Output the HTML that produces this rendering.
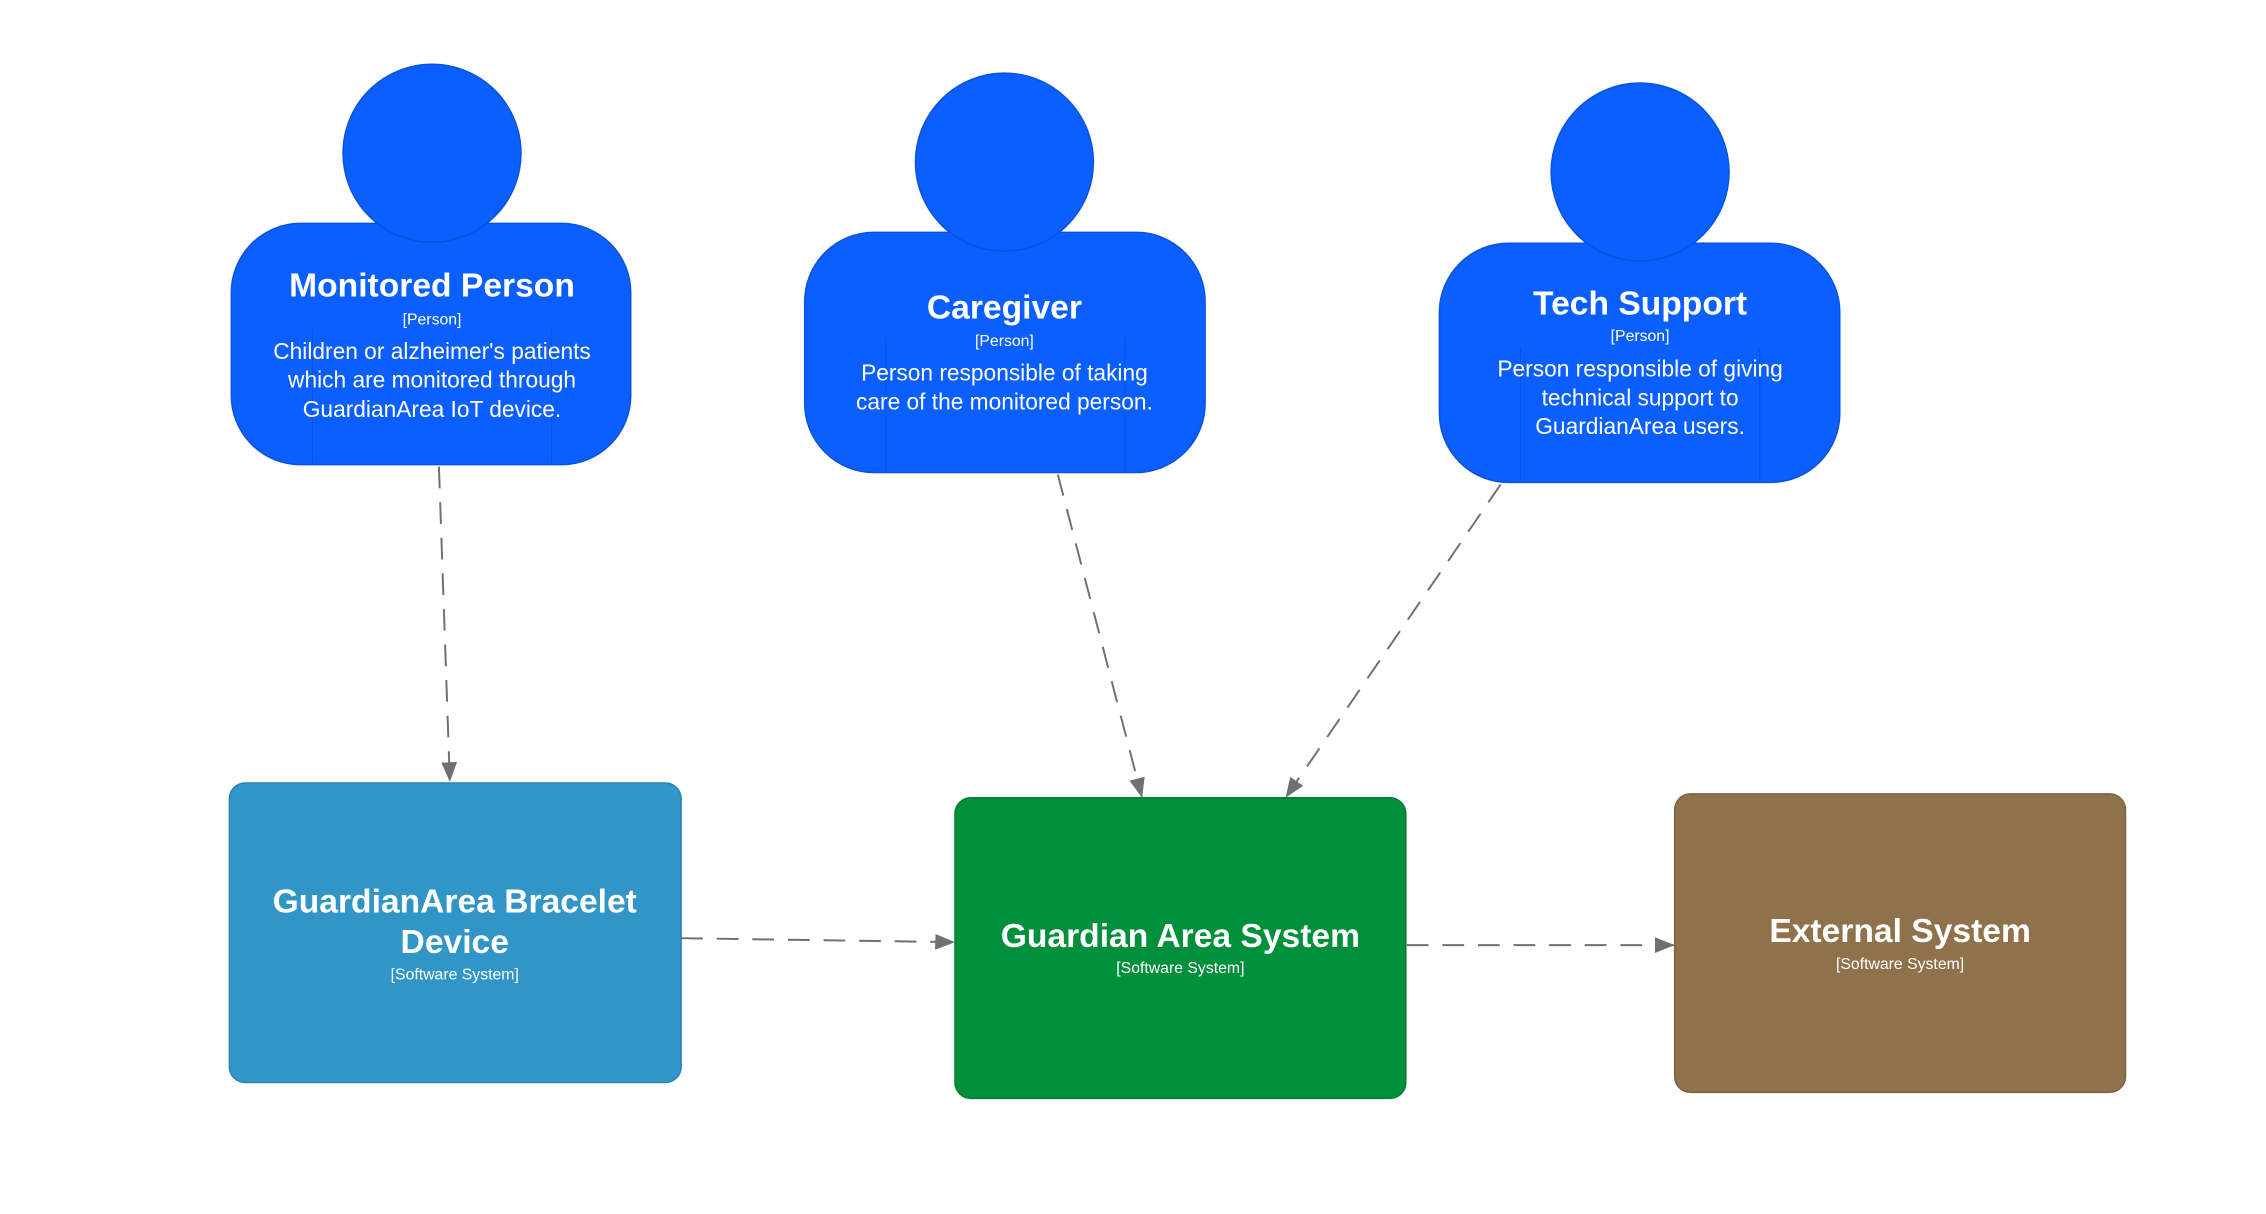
<!DOCTYPE html>
<html><head><meta charset="utf-8"><style>
html,body{margin:0;padding:0;background:#fff;}
svg{display:block;}
text{font-family:"Liberation Sans",sans-serif;fill:#fff;text-anchor:middle;}
.t{font-weight:bold;font-size:34px;}
.s{font-size:16px;}
.d{font-size:23px;}
</style></head><body>
<svg width="2266" height="1214" viewBox="0 0 2266 1214" xmlns="http://www.w3.org/2000/svg">
<defs>
<marker id="a" markerWidth="20" markerHeight="16" refX="19" refY="8" orient="auto" markerUnits="userSpaceOnUse" viewBox="0 0 20 16">
<path d="M0,0 L20,8 L0,16 z" fill="#707070"/></marker>
</defs>
<g transform="scale(0.9886)">
<g stroke="#707070" stroke-width="2" stroke-dasharray="22 14" fill="none" marker-end="url(#a)">
<path d="M444,472 L455,790"/>
<path d="M1070,480 L1155,806"/>
<path d="M1518,490 L1301,806"/>
<path d="M689,949 L965,953"/>
<path d="M1423,956 L1693,956"/>
</g>
<!-- Person 1 -->
<rect x="234" y="226" width="404" height="244" rx="70" fill="#0b5fff" stroke="#0a52dd" stroke-width="1.5"/>
<line x1="316" y1="333" x2="316" y2="470" stroke="#0a52dd"/><line x1="558" y1="333" x2="558" y2="470" stroke="#0a52dd"/>
<circle cx="437" cy="155" r="90" fill="#0b5fff" stroke="#0a52dd" stroke-width="1.5"/>
<text class="t" x="437" y="300">Monitored Person</text>
<text class="s" x="437" y="328">[Person]</text>
<text class="d" x="437" y="363">Children or alzheimer's patients</text>
<text class="d" x="437" y="392">which are monitored through</text>
<text class="d" x="437" y="422">GuardianArea IoT device.</text>
<!-- Person 2 -->
<rect x="814" y="235" width="405" height="243" rx="70" fill="#0b5fff" stroke="#0a52dd" stroke-width="1.5"/>
<line x1="896" y1="342" x2="896" y2="478" stroke="#0a52dd"/><line x1="1138" y1="342" x2="1138" y2="478" stroke="#0a52dd"/>
<circle cx="1016" cy="164" r="90" fill="#0b5fff" stroke="#0a52dd" stroke-width="1.5"/>
<text class="t" x="1016" y="322">Caregiver</text>
<text class="s" x="1016" y="350">[Person]</text>
<text class="d" x="1016" y="385">Person responsible of taking</text>
<text class="d" x="1016" y="414">care of the monitored person.</text>
<!-- Person 3 -->
<rect x="1456" y="246" width="405" height="242" rx="70" fill="#0b5fff" stroke="#0a52dd" stroke-width="1.5"/>
<line x1="1538" y1="352" x2="1538" y2="488" stroke="#0a52dd"/><line x1="1780" y1="352" x2="1780" y2="488" stroke="#0a52dd"/>
<circle cx="1659" cy="174" r="90" fill="#0b5fff" stroke="#0a52dd" stroke-width="1.5"/>
<text class="t" x="1659" y="318">Tech Support</text>
<text class="s" x="1659" y="345">[Person]</text>
<text class="d" x="1659" y="381">Person responsible of giving</text>
<text class="d" x="1659" y="410">technical support to</text>
<text class="d" x="1659" y="439">GuardianArea users.</text>
<!-- Boxes -->
<rect x="232" y="792" width="457" height="303" rx="16" fill="#3195c7" stroke="#2a84b2" stroke-width="1.5"/>
<text class="t" x="460" y="923">GuardianArea Bracelet</text>
<text class="t" x="460" y="964">Device</text>
<text class="s" x="460" y="991">[Software System]</text>
<rect x="966" y="807" width="456" height="304" rx="16" fill="#008f3a" stroke="#007d33" stroke-width="1.5"/>
<text class="t" x="1194" y="958">Guardian Area System</text>
<text class="s" x="1194" y="984">[Software System]</text>
<rect x="1694" y="803" width="456" height="302" rx="16" fill="#8f714b" stroke="#7d6242" stroke-width="1.5"/>
<text class="t" x="1922" y="953">External System</text>
<text class="s" x="1922" y="980">[Software System]</text>
</g>
</svg>
</body></html>
